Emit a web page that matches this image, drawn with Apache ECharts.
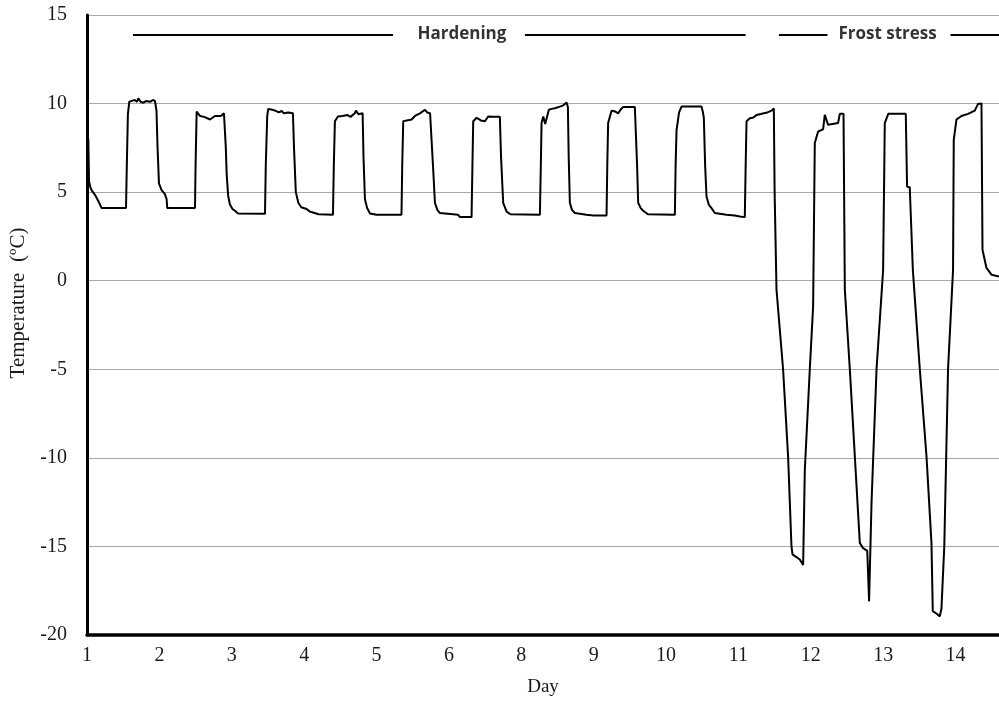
<!DOCTYPE html>
<html>
<head>
<meta charset="utf-8">
<script src="https://cdn.jsdelivr.net/npm/echarts@6/dist/echarts.min.js"></script>
<style>
  html, body { margin: 0; padding: 0; background: #fff; }
  #chart { width: 999px; height: 702px; }
</style>
</head>
<body>
<div id="chart"></div>
<script>
// Day labels shown under the x axis (one per day slot, position = index)
const dayLabels = ['1', '2', '3', '4', '5', '6', '8', '9', '10', '11', '12', '13', '14'];

// Temperature trace during the hardening period: [day slot, °C]
const hardeningTrace = [
  [0.018, 8.0], [0.028, 5.6], [0.045, 5.3], [0.065, 5.1], [0.110, 4.85], [0.156, 4.5],
  [0.203, 4.1], [0.539, 4.1], [0.550, 6.5], [0.565, 9.4], [0.584, 10.1], [0.620, 10.15],
  [0.660, 10.2], [0.690, 10.1], [0.709, 10.3], [0.740, 10.1], [0.778, 10.05], [0.820, 10.15],
  [0.870, 10.1], [0.910, 10.2], [0.939, 10.15], [0.960, 9.6], [0.975, 7.5], [0.994, 5.5],
  [1.032, 5.1], [1.075, 4.9], [1.100, 4.6], [1.109, 4.1], [1.492, 4.1], [1.500, 6.5],
  [1.515, 9.55], [1.561, 9.3], [1.620, 9.25], [1.699, 9.1], [1.768, 9.3], [1.850, 9.3],
  [1.892, 9.45], [1.906, 9.4], [1.918, 7.5], [1.930, 6.0], [1.950, 4.8], [1.975, 4.3],
  [2.010, 4.05], [2.044, 3.95], [2.086, 3.8], [2.459, 3.78], [2.470, 6.5], [2.490, 9.3],
  [2.504, 9.7], [2.560, 9.65], [2.600, 9.6], [2.650, 9.5], [2.690, 9.58], [2.720, 9.45],
  [2.780, 9.5], [2.845, 9.45], [2.860, 7.5], [2.885, 5.0], [2.920, 4.4], [2.960, 4.15],
  [3.034, 4.05], [3.080, 3.9], [3.122, 3.85], [3.200, 3.75], [3.398, 3.72], [3.410, 6.5],
  [3.425, 9.0], [3.467, 9.27], [3.530, 9.3], [3.600, 9.35], [3.640, 9.25], [3.700, 9.45],
  [3.715, 9.6], [3.750, 9.4], [3.808, 9.45], [3.820, 7.0], [3.840, 4.6], [3.870, 4.1],
  [3.909, 3.8], [4.000, 3.72], [4.345, 3.72], [4.355, 6.5], [4.369, 9.0], [4.420, 9.05],
  [4.485, 9.1], [4.530, 9.3], [4.600, 9.45], [4.669, 9.65], [4.700, 9.5], [4.740, 9.45],
  [4.761, 9.4], [4.780, 6.5], [4.807, 4.4], [4.840, 4.0], [4.876, 3.82], [5.128, 3.72],
  [5.152, 3.59], [5.313, 3.59], [5.325, 6.5], [5.336, 9.0], [5.383, 9.2], [5.440, 9.05],
  [5.497, 9.0], [5.543, 9.27], [5.600, 9.25], [5.704, 9.25], [5.720, 7.0], [5.750, 4.4],
  [5.797, 3.9], [5.850, 3.75], [6.257, 3.72], [6.270, 6.5], [6.280, 8.9], [6.303, 9.27],
  [6.330, 8.85], [6.350, 8.9], [6.381, 9.65], [6.420, 9.7], [6.464, 9.74], [6.533, 9.83],
  [6.580, 9.9], [6.626, 10.06], [6.644, 9.8], [6.655, 7.0], [6.671, 4.4], [6.700, 4.0],
  [6.740, 3.82], [6.900, 3.72], [7.000, 3.68], [7.178, 3.68], [7.188, 6.5], [7.200, 8.9],
  [7.247, 9.6], [7.300, 9.55], [7.338, 9.45], [7.380, 9.7], [7.408, 9.8], [7.569, 9.8],
  [7.583, 9.7], [7.600, 6.5], [7.615, 4.4], [7.650, 4.1], [7.684, 3.95], [7.750, 3.75],
  [8.122, 3.72], [8.132, 6.5], [8.145, 8.5], [8.180, 9.5], [8.214, 9.83], [8.490, 9.83],
  [8.510, 9.5], [8.522, 9.2], [8.540, 6.5], [8.559, 4.75], [8.590, 4.3], [8.628, 4.1],
  [8.674, 3.82], [8.835, 3.72], [8.950, 3.68], [9.019, 3.63], [9.088, 3.59], [9.100, 6.5],
  [9.112, 9.0], [9.157, 9.17], [9.200, 9.2], [9.250, 9.35], [9.296, 9.4], [9.350, 9.45],
  [9.400, 9.5], [9.457, 9.6], [9.479, 9.55], [9.489, 9.72]
];

// Temperature trace during the frost-stress period: [day slot, °C]
const frostTrace = [
  [9.500, 5.0], [9.526, -0.5], [9.617, -5.0], [9.686, -9.9], [9.733, -15.0], [9.747, -15.45],
  [9.800, -15.6], [9.848, -15.74], [9.894, -16.05], [9.917, -10.7], [9.986, -5.0], [10.032, -1.45],
  [10.055, 7.77], [10.101, 8.42], [10.170, 8.55], [10.193, 9.36], [10.239, 8.8], [10.300, 8.85],
  [10.377, 8.9], [10.401, 9.42], [10.452, 9.42], [10.470, -0.5], [10.539, -5.0], [10.608, -9.9],
  [10.677, -14.8], [10.722, -15.1], [10.780, -15.25], [10.805, -18.1], [10.839, -12.5], [10.908, -5.0],
  [10.999, 0.6], [11.022, 8.9], [11.070, 9.42], [11.312, 9.42], [11.330, 5.3], [11.367, 5.28],
  [11.410, 0.6], [11.506, -5.0], [11.598, -9.9], [11.667, -14.8], [11.685, -18.65], [11.740, -18.8],
  [11.782, -18.95], [11.805, -18.5], [11.844, -15.0], [11.896, -5.0], [11.965, 0.6], [11.975, 7.95],
  [12.012, 9.1], [12.081, 9.3], [12.173, 9.42], [12.265, 9.6], [12.311, 9.98], [12.358, 10.0],
  [12.372, 1.75], [12.427, 0.72], [12.496, 0.34], [12.600, 0.24]
];

// Phase headings and the rule segments flanking them (day slot units)
const phaseNames = ['Hardening', 'Frost stress'];
const phaseCentres = [5.18, 11.06];
const phaseRules = [[0.635, 4.227], [6.05, 9.10], [9.56, 10.23], [11.93, 12.6]];
const phaseLevel = 13.9;

const yMin = -20, yMax = 15, yStep = 5;
const xMax = 12.6;

const serif = 'Liberation Serif, Times New Roman, serif';

const chart = echarts.init(document.getElementById('chart'), null, { renderer: 'canvas' });

chart.setOption({
  animation: false,
  backgroundColor: '#ffffff',
  grid: { left: 87, right: 0, top: 15, bottom: 66, containLabel: false },
  xAxis: {
    type: 'value',
    min: 0,
    max: xMax,
    interval: 1,
    name: 'Day',
    nameLocation: 'middle',
    nameGap: 43,
    nameTextStyle: { fontFamily: serif, fontSize: 19, color: '#1a1a1a' },
    axisLine: { onZero: false, lineStyle: { color: '#000', width: 3.5 } },
    axisTick: { show: false },
    splitLine: { show: false },
    axisLabel: {
      margin: 11,
      fontFamily: serif,
      fontSize: 20,
      color: '#1a1a1a',
      showMaxLabel: false,
      formatter: function (v) {
        const i = Math.round(v);
        return Math.abs(v - i) < 1e-6 && dayLabels[i] !== undefined ? dayLabels[i] : '';
      }
    }
  },
  yAxis: {
    type: 'value',
    min: yMin,
    max: yMax,
    interval: yStep,
    name: 'Temperature  (ºC)',
    nameLocation: 'middle',
    nameRotate: 90,
    nameGap: 56,
    // left padding nudges the rotated title up along the axis
    nameTextStyle: { fontFamily: serif, fontSize: 21, color: '#1a1a1a', padding: [0, 0, 0, 44] },
    axisLine: { show: true, lineStyle: { color: '#000', width: 3 } },
    axisTick: { show: false },
    axisLabel: { margin: 20, fontFamily: serif, fontSize: 20, color: '#1a1a1a' },
    splitLine: { lineStyle: { color: '#a8a8a8', width: 1 } }
  },
  series: [
    {
      name: 'Temperature',
      type: 'line',
      data: hardeningTrace.concat(frostTrace),
      showSymbol: false,
      symbol: 'none',
      smooth: false,
      lineStyle: { color: '#000', width: 2 },
      z: 3
    },
    {
      name: 'Phases',
      type: 'scatter',
      symbolSize: 0,
      silent: true,
      data: phaseNames.map(function (n, i) { return { name: n, value: [phaseCentres[i], phaseLevel] }; }),
      label: {
        show: true,
        position: 'inside',
        formatter: '{b}',
        fontFamily: 'Open Sans, Lato, sans-serif',
        fontWeight: 'bold',
        fontSize: 17,
        color: '#000'
      },
      markLine: {
        silent: true,
        symbol: ['none', 'none'],
        label: { show: false },
        lineStyle: { color: '#000', width: 2, type: 'solid' },
        data: phaseRules.map(function (r) {
          return [{ coord: [r[0], phaseLevel] }, { coord: [r[1], phaseLevel] }];
        })
      }
    }
  ]
});
</script>
</body>
</html>
